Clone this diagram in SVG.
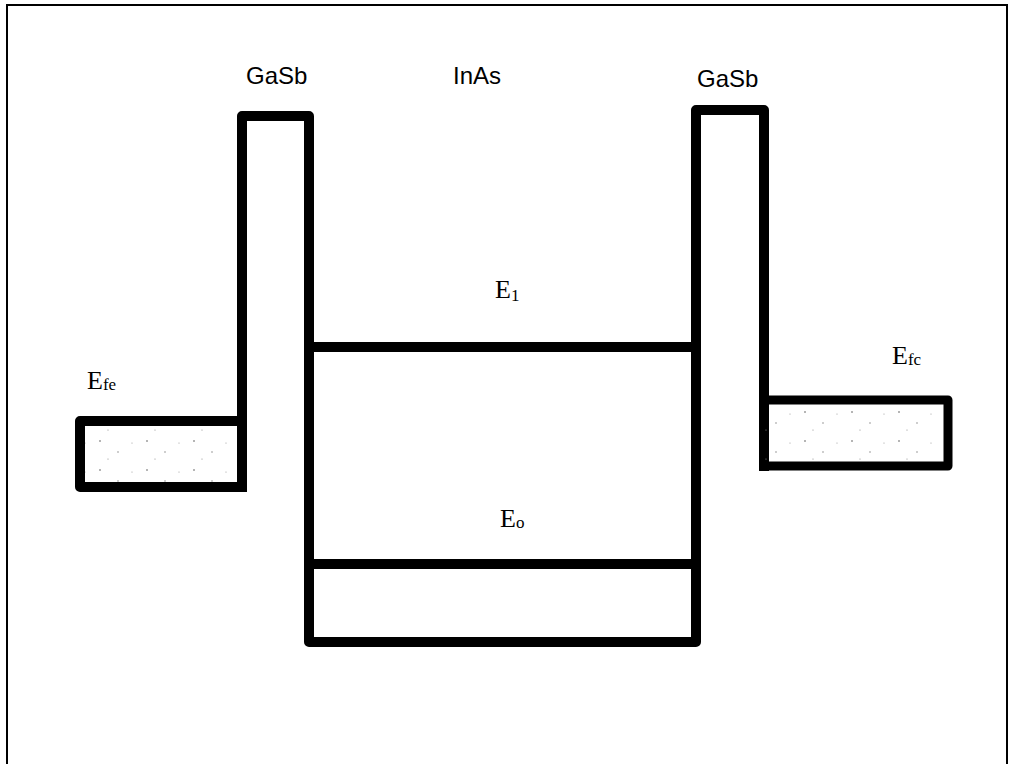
<svg xmlns="http://www.w3.org/2000/svg" width="1011" height="764" viewBox="0 0 1011 764">
  <style>
    .frame { fill: none; stroke: #000; stroke-width: 2; }
    .band { fill: none; stroke: #000; stroke-width: 10; stroke-linejoin: round; stroke-linecap: square; }
    .level { stroke: #000; stroke-width: 10; }
    .mat { font-family: "Liberation Sans", Arial, sans-serif; font-size: 24px; fill: #000; }
    .en { font-family: "Liberation Serif", "Times New Roman", serif; font-size: 26px; fill: #000; }
    .sub { font-size: 17px; }
  </style>
  <defs>
    <pattern id="stipple" width="47" height="29" patternUnits="userSpaceOnUse">
      <circle cx="6" cy="6" r="0.8" fill="#555"/>
      <circle cx="24" cy="17" r="0.7" fill="#777"/>
      <circle cx="38" cy="8" r="0.6" fill="#999"/>
      <circle cx="14" cy="24" r="0.6" fill="#888"/>
    </pattern>
  </defs>

  <!-- outer frame (open at the bottom) -->
  <path class="frame" d="M7,764 V5 H1007 V764"/>

  <!-- emitter lead (left Fermi sea) -->
  <g id="emitter">
    <rect x="80" y="421" width="162" height="66" fill="url(#stipple)"/>
    <path class="band" d="M242,421 H80 V487 H242"/>
  </g>

  <!-- conduction band profile: GaSb / InAs / GaSb -->
  <g id="band-profile">
    <path class="band" d="M242,487 V116 H309 V642 H696 V110 H764 V466"/>
  </g>

  <!-- collector lead (right Fermi sea) -->
  <g id="collector">
    <rect x="764" y="400" width="184" height="66" fill="url(#stipple)"/>
    <path class="band" d="M764,400 H948 V466 H764" style="stroke-width:9"/>
  </g>

  <!-- quantised levels in the well -->
  <g id="levels">
    <line class="level" x1="310" y1="347" x2="696" y2="347"/>
    <line class="level" x1="310" y1="564" x2="696" y2="564"/>
  </g>

  <!-- labels -->
  <g id="labels">
    <text class="mat" x="246" y="84">GaSb</text>
    <text class="mat" x="453" y="84">InAs</text>
    <text class="mat" x="697" y="87">GaSb</text>
    <text class="en" x="495" y="298">E<tspan class="sub" dy="3">1</tspan></text>
    <text class="en" x="500" y="527">E<tspan class="sub" dy="1">o</tspan></text>
    <text class="en" x="87" y="389">E<tspan class="sub" dy="1">fe</tspan></text>
    <text class="en" x="892" y="364">E<tspan class="sub" dy="1">fc</tspan></text>
  </g>
</svg>
